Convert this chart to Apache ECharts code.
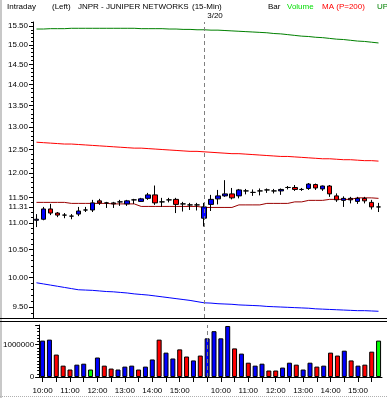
<!DOCTYPE html>
<html><head><meta charset="utf-8">
<script src="https://cdn.jsdelivr.net/npm/echarts@6/dist/echarts.min.js"></script>
<style>html,body{margin:0;padding:0;background:#fff}#c{width:387px;height:398px}</style>
</head><body><div id="c"></div>
<script>
// ---- data ----
const times = ['10:00','10:15','10:30','10:45','11:00','11:15','11:30','11:45','12:00','12:15','12:30','12:45','13:00','13:15','13:30','13:45','14:00','14:15','14:30','14:45','15:00','15:15','15:30','15:45',
  '9:30','9:45','10:00','10:15','10:30','10:45','11:00','11:15','11:30','11:45','12:00','12:15','12:30','12:45','13:00','13:15','13:30','13:45','14:00','14:15','14:30','14:45','15:00','15:15','15:30','15:45'];
const dayBreakIndex = 24;
const dayBreakLabel = '3/20';
const open  = [11.05,11.07,11.27,11.19,11.15,11.13,11.17,11.25,11.25,11.43,11.39,11.39,11.41,11.37,11.45,11.42,11.48,11.55,11.41,11.45,11.46,11.37,11.35,11.35,
  11.09,11.36,11.47,11.53,11.57,11.53,11.63,11.60,11.63,11.65,11.63,11.63,11.70,11.70,11.66,11.68,11.76,11.67,11.73,11.53,11.44,11.48,11.42,11.48,11.40,11.31];
const high  = [11.17,11.31,11.37,11.21,11.19,11.17,11.31,11.31,11.45,11.47,11.41,11.41,11.45,11.45,11.47,11.49,11.59,11.74,11.49,11.49,11.49,11.41,11.39,11.39,
  11.39,11.55,11.65,11.85,11.69,11.67,11.67,11.66,11.68,11.68,11.67,11.68,11.73,11.75,11.69,11.79,11.78,11.74,11.75,11.58,11.52,11.51,11.51,11.51,11.45,11.39];
const low   = [10.92,11.05,11.15,11.11,11.09,11.07,11.13,11.21,11.21,11.35,11.29,11.29,11.33,11.33,11.37,11.41,11.45,11.35,11.31,11.40,11.19,11.22,11.25,11.24,
  10.93,11.23,11.36,11.51,11.46,11.48,11.56,11.53,11.54,11.59,11.58,11.55,11.66,11.63,11.63,11.65,11.65,11.63,11.51,11.41,11.31,11.38,11.37,11.38,11.26,11.21];
const close = [11.07,11.27,11.19,11.15,11.15,11.13,11.23,11.25,11.39,11.39,11.39,11.37,11.41,11.43,11.45,11.47,11.55,11.39,11.41,11.45,11.36,11.37,11.35,11.35,
  11.31,11.46,11.53,11.57,11.49,11.65,11.63,11.60,11.63,11.65,11.63,11.66,11.70,11.66,11.66,11.77,11.69,11.73,11.57,11.45,11.48,11.45,11.48,11.43,11.31,11.31];
const volume = [1120000,1150000,690000,350000,230000,380000,410000,230000,600000,350000,260000,230000,320000,350000,230000,320000,540000,1150000,750000,570000,850000,630000,510000,660000,
  1190000,1410000,1190000,1570000,880000,720000,440000,350000,410000,200000,200000,290000,440000,380000,230000,440000,320000,350000,750000,660000,810000,510000,350000,380000,780000,1120000];
const volumeDir = [1,1,-1,-1,-1,1,1,0,1,-1,-1,1,1,1,-1,1,1,-1,1,1,-1,-1,1,-1,
  1,1,1,1,-1,1,-1,1,1,-1,-1,1,1,-1,1,1,-1,1,-1,-1,1,-1,1,-1,-1,0];
const upLine = [15.42,15.42,15.43,15.43,15.43,15.44,15.44,15.44,15.44,15.44,15.44,15.44,15.44,15.44,15.44,15.43,15.43,15.43,15.43,15.42,15.42,15.41,15.41,15.40,
  15.40,15.39,15.39,15.38,15.37,15.36,15.35,15.34,15.33,15.32,15.30,15.29,15.27,15.25,15.23,15.22,15.20,15.19,15.17,15.15,15.14,15.12,15.10,15.09,15.07,15.05];
const maLine = [12.66,12.65,12.64,12.63,12.62,12.62,12.61,12.60,12.59,12.58,12.57,12.56,12.55,12.54,12.53,12.53,12.52,12.51,12.50,12.49,12.48,12.47,12.46,12.46,
  12.45,12.44,12.43,12.42,12.41,12.41,12.40,12.39,12.38,12.37,12.36,12.35,12.35,12.34,12.33,12.32,12.31,12.30,12.30,12.29,12.28,12.28,12.27,12.26,12.26,12.25];
const midLine = [11.40,11.40,11.40,11.40,11.40,11.38,11.38,11.38,11.38,11.38,11.38,11.37,11.37,11.37,11.37,11.32,11.32,11.32,11.32,11.32,11.32,11.32,11.32,11.32,
  11.30,11.30,11.30,11.30,11.30,11.35,11.35,11.35,11.35,11.38,11.38,11.38,11.38,11.41,11.41,11.44,11.44,11.44,11.46,11.46,11.46,11.46,11.49,11.49,11.49,11.48];
const lowLine = [9.91,9.89,9.87,9.85,9.83,9.81,9.79,9.785,9.78,9.77,9.76,9.755,9.745,9.735,9.72,9.71,9.70,9.685,9.67,9.655,9.64,9.625,9.61,9.59,
  9.57,9.565,9.555,9.55,9.545,9.535,9.53,9.525,9.52,9.51,9.505,9.50,9.495,9.49,9.485,9.48,9.47,9.465,9.46,9.455,9.45,9.445,9.44,9.44,9.435,9.43];
const priceTickLabels = [9.5,10,10.5,11,11.31,11.5,12,12.5,13,13.5,14,14.5,15,15.5];
const priceMin = 9.32, priceMax = 15.61;
const volumeMax = 1600000, volumeStep = 1000000;

// ---- chart ----
const L = v => Math.log10(v);
const FONT = 'Liberation Sans, Arial, sans-serif';
const dirColor = d => d > 0 ? '#0000ff' : (d < 0 ? '#ff0000' : '#00ff00');
const minorTicks = [];
for (let k = 93; k <= 156; k++) minorTicks.push(L(k / 10));

const chart = echarts.init(document.getElementById('c'), null, {renderer: 'canvas', width: 387, height: 398});
const lineSeries = (arr, color) => ({
  type: 'line', xAxisIndex: 0, yAxisIndex: 0, data: arr.map(L), showSymbol: false, symbol: 'none',
  lineStyle: {color: color, width: 1}, emphasis: {disabled: true}, silent: true, z: 2
});
const header = [
  ['Intraday', 7, '#000'], ['(Left)', 52, '#000'], ['JNPR - JUNIPER NETWORKS', 78, '#000'], ['(15-Min)', 192, '#000'],
  ['Bar', 268, '#000'], ['Volume', 287, '#00dd00'], ['MA (P=200)', 322, '#ff0000'], ['UP', 377, '#008000']
];
chart.setOption({
  animation: false,
  backgroundColor: '#ffffff',
  grid: [
    {left: 33, right: 5, top: 22, bottom: 80},
    {left: 33, right: 5, top: 325, bottom: 21}
  ],
  xAxis: [
    {type: 'category', gridIndex: 0, data: times, boundaryGap: true, show: false},
    {type: 'category', gridIndex: 1, data: times, boundaryGap: true,
      axisLine: {show: true, lineStyle: {color: '#000', width: 1}},
      axisTick: {show: true, alignWithLabel: true, length: 5, interval: (i) => i % 2 === 0, lineStyle: {color: '#000'}},
      axisLabel: {interval: (i, v) => /:00$/.test(v), color: '#000', fontSize: 8, fontFamily: FONT, margin: 10},
      splitLine: {show: false}}
  ],
  yAxis: [
    {type: 'value', gridIndex: 0, position: 'left', min: L(priceMin), max: L(priceMax),
      axisLine: {show: true, lineStyle: {color: '#000', width: 1}},
      axisTick: {show: true, length: 4, customValues: priceTickLabels.map(L), lineStyle: {color: '#000'}},
      axisLabel: {customValues: priceTickLabels.map(L), formatter: v => Math.pow(10, v).toFixed(2),
        color: '#000', fontSize: 8, fontFamily: FONT, margin: 5},
      splitLine: {show: false}},
    {type: 'value', gridIndex: 0, position: 'left', min: L(priceMin), max: L(priceMax),
      axisLine: {show: false},
      axisTick: {show: true, length: 2, customValues: minorTicks, lineStyle: {color: '#000'}},
      axisLabel: {show: false}, splitLine: {show: false}},
    {type: 'value', gridIndex: 1, position: 'left', min: 0, max: volumeMax, interval: volumeStep,
      axisLine: {show: true, lineStyle: {color: '#000', width: 1}},
      axisTick: {show: true, length: 4, lineStyle: {color: '#000'}},
      minorTick: {show: true, splitNumber: 10, length: 2, lineStyle: {color: '#000'}},
      axisLabel: {formatter: v => String(v), showMaxLabel: false, color: '#000', fontSize: 8, fontFamily: FONT, margin: 5},
      splitLine: {show: false}}
  ],
  series: [
    lineSeries(upLine, '#008000'),
    lineSeries(maLine, '#ff0000'),
    lineSeries(midLine, '#990000'),
    lineSeries(lowLine, '#0000ff'),
    {type: 'candlestick', xAxisIndex: 0, yAxisIndex: 0, barWidth: 5,
      data: open.map((o, i) => [L(o), L(close[i]), L(low[i]), L(high[i])]),
      itemStyle: {color: '#0000ff', color0: '#ff0000', borderColor: '#000', borderColor0: '#000', borderColorDoji: '#000', borderWidth: 1},
      emphasis: {disabled: true}, silent: true, z: 3,
      markLine: {silent: true, symbol: ['none', 'none'], animation: false,
        lineStyle: {color: '#808080', type: [4, 3], width: 1},
        label: {show: true, position: 'end', formatter: dayBreakLabel, color: '#000', fontSize: 8, fontFamily: FONT, distance: 2, padding: [0, 0, 0, 22]},
        data: [{xAxis: dayBreakIndex}]}},
    {type: 'bar', xAxisIndex: 1, yAxisIndex: 2, barWidth: 5,
      data: volume.map((v, i) => ({value: v, itemStyle: {color: dirColor(volumeDir[i])}})),
      itemStyle: {borderColor: '#000', borderWidth: 1},
      emphasis: {disabled: true}, silent: true,
      markLine: {silent: true, symbol: ['none', 'none'], animation: false,
        lineStyle: {color: '#808080', type: [4, 3], width: 1}, label: {show: false},
        data: [{xAxis: dayBreakIndex}]}}
  ],
  graphic: [
    {type: 'rect', shape: {x: 0, y: 0, width: 2, height: 398}, style: {fill: '#c8c8c8'}, silent: true},
    {type: 'line', shape: {x1: 0, y1: 318.5, x2: 387, y2: 318.5}, style: {stroke: '#000', lineWidth: 1}, silent: true},
    {type: 'line', shape: {x1: 0, y1: 321.5, x2: 387, y2: 321.5}, style: {stroke: '#000', lineWidth: 1}, silent: true},
    {type: 'line', shape: {x1: 0, y1: 396.5, x2: 387, y2: 396.5}, style: {stroke: '#b0b0b0', lineWidth: 1, lineDash: [1, 1]}, silent: true}
  ].concat(header.map(h => ({type: 'text', x: h[1], y: 6.5, silent: true,
    style: {text: h[0], fill: h[2], fontSize: 8, fontFamily: FONT, verticalAlign: 'middle', align: 'left'}})))
});
</script></body></html>
